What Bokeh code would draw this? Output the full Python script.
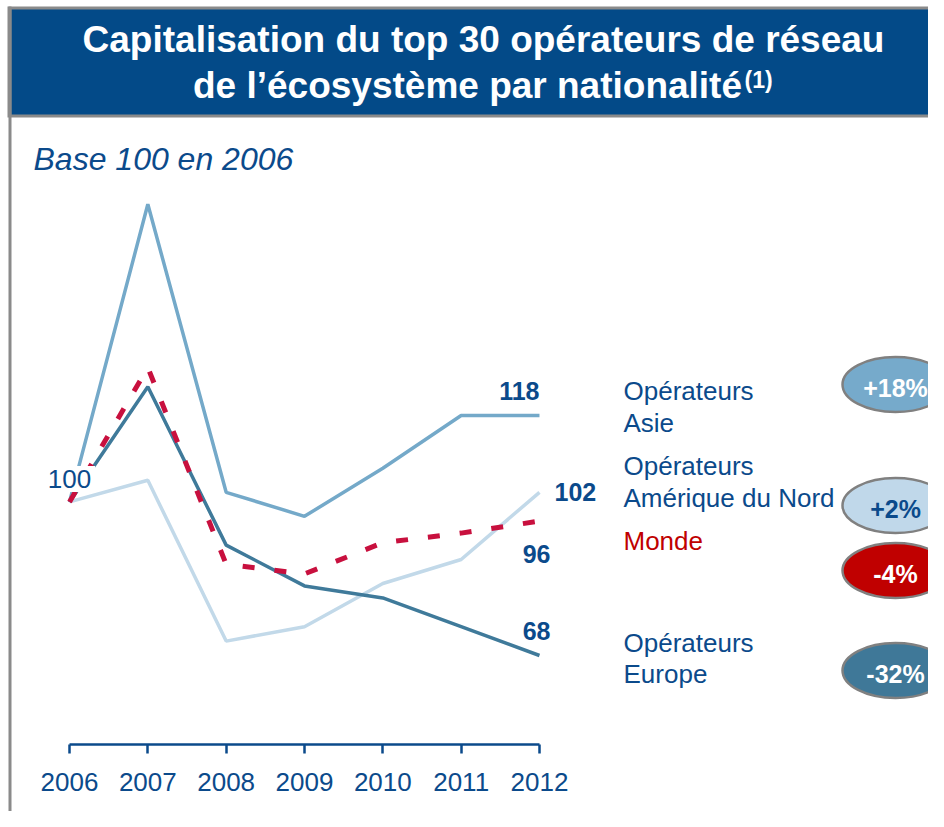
from bokeh.plotting import figure
from bokeh.models import Range1d, LinearAxis, FixedTicker, Label
from bokeh.embed import file_html
from bokeh.resources import INLINE

# ---------------- data ----------------
years = [2006, 2007, 2008, 2009, 2010, 2011, 2012]
asie = [100, 162, 102, 97, 107, 118, 118]
amerique = [100, 104.5, 71, 74, 83, 88, 102]
monde = [100, 128, 87, 85, 91.5, 93.5, 96]
europe = [100, 124, 91, 82.5, 80, 74, 68]

title_line1 = "Capitalisation du top 30 opérateurs de réseau"
title_line2 = "de l’écosystème par nationalité"
title_note = "(1)"
subtitle = "Base 100 en 2006"

# ---------------- layout helpers (picture pixels -> data) ----------------
W, H = 928, 811
X0_PX, X_PER = 69.0, 78.33      # pixel x of 2006, px per year
YR_PX, YR_V, Y_PER = 655.0, 68.0, 4.8  # pixel y of value 68, px per unit

x_start = 2006 - X0_PX / X_PER
x_end = x_start + W / X_PER
y_end = YR_V + YR_PX / Y_PER
y_start = y_end - H / Y_PER


def dx(px):
    return 2006 + (px - X0_PX) / X_PER


def dy(py):
    return YR_V + (YR_PX - py) / Y_PER


FONT = "Liberation Sans"
DARK = "#0b4a8b"
BANNER = "#034a88"
GRAY = "#8a8a8a"
C_ASIE = "#74a9c9"
C_AM = "#c2d9e9"
C_EU = "#3f7a9a"
C_MONDE = "#c8103e"

p = figure(width=W, height=H, x_range=Range1d(x_start, x_end), y_range=Range1d(y_start, y_end),
           x_axis_type=None, y_axis_type=None, toolbar_location=None, output_backend="svg",
           min_border=0, outline_line_color=None, background_fill_color="white",
           border_fill_color="white")

# frame / banner
p.quad(left=[dx(7)], right=[dx(960)], top=[dy(6)], bottom=[dy(117)], fill_color=GRAY, line_color=None)
p.quad(left=[dx(11)], right=[dx(960)], top=[dy(9)], bottom=[dy(114)], fill_color=BANNER, line_color=None)
p.quad(left=[dx(8)], right=[dx(11)], top=[dy(6)], bottom=[dy(840)], fill_color=GRAY, line_color=None)


def lbl(x, y, text, size, color=DARK, style="normal", align="left", baseline="middle", **kw):
    l = Label(x=x, y=y, text=text, text_font=FONT, text_font_size=f"{size}px",
              text_color=color, text_font_style=style, text_align=align,
              text_baseline=baseline, **kw)
    p.add_layout(l)
    return l


lbl(dx(483), dy(39), title_line1, 37, "white", "bold", "center", "middle")
lbl(dx(467), dy(85), title_line2, 37, "white", "bold", "center", "middle")
lbl(dx(744), dy(79), title_note, 23, "white", "bold", "left", "middle")
lbl(dx(33), dy(158), subtitle, 32, DARK, "italic", "left", "middle")

# lines
p.line(years, amerique, line_color=C_AM, line_width=3.5)
p.line(years, asie, line_color=C_ASIE, line_width=3.5)
p.line(years, europe, line_color=C_EU, line_width=3.5)
p.line(years, monde, line_color=C_MONDE, line_width=5, line_dash="12 20")

# start label (white box over the line starts)
lbl(years[0], asie[0] + 23 / Y_PER, f"{asie[0]:.0f}", 26, DARK, "normal", "center", "middle",
    background_fill_color="white", padding=4)

# end labels
lbl(years[-1], asie[-1] + 25 / Y_PER, f"{asie[-1]:.0f}", 25, DARK, "bold", "right", "middle")
lbl(years[-1] + 15 / X_PER, amerique[-1], f"{amerique[-1]:.0f}", 25, DARK, "bold", "left", "middle")
lbl(years[-1] + 11 / X_PER, monde[-1] - 33 / Y_PER, f"{monde[-1]:.0f}", 25, DARK, "bold", "right", "middle")
lbl(years[-1] + 11 / X_PER, europe[-1] + 25 / Y_PER, f"{europe[-1]:.0f}", 25, DARK, "bold", "right", "middle")

# legend texts
lbl(dx(623), dy(390), "Opérateurs", 26)
lbl(dx(623), dy(422), "Asie", 26)
lbl(dx(623), dy(465), "Opérateurs", 26)
lbl(dx(623), dy(497), "Amérique du Nord", 26)
lbl(dx(623), dy(540), "Monde", 26, "#c00000")
lbl(dx(623), dy(642), "Opérateurs", 26)
lbl(dx(623), dy(673), "Europe", 26)


# percentage ovals
def pct(s):
    return f"{(s[-1] - s[0]) / s[0] * 100:+.0f}%"


ovals = [(asie, 384, "#76aacb", "white"), (amerique, 505, "#c0d8ea", DARK),
         (monde, 570, "#c00000", "white"), (europe, 670, "#3f7898", "white")]
for s, cy, fill, tcol in ovals:
    p.ellipse(x=[dx(895)], y=[dy(cy)], width=106, height=55, width_units="screen",
              height_units="screen", fill_color=fill, line_color="#808080", line_width=2.5)
    lbl(dx(895), dy(cy + 3), pct(s), 25, tcol, "bold", "center", "middle")

# x axis
ax = LinearAxis(fixed_location=dy(744), bounds=(2006, 2012), ticker=FixedTicker(ticks=years))
ax.axis_line_color = DARK
ax.axis_line_width = 2.5
ax.major_tick_line_color = DARK
ax.major_tick_line_width = 2.5
ax.major_tick_out = 9
ax.major_tick_in = 0
ax.minor_tick_out = 0
ax.minor_tick_in = 0
ax.major_label_standoff = 19
ax.major_label_text_font = FONT
ax.major_label_text_font_size = "26px"
ax.major_label_text_color = DARK
p.add_layout(ax, "below")

open("out.html", "w").write(file_html(p, INLINE))
